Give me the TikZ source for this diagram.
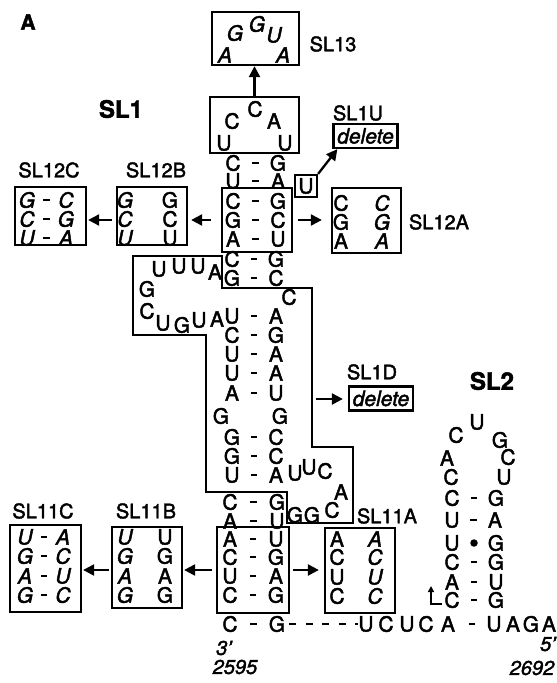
\documentclass[tikz,border=0pt]{standalone}
\usepackage{fontspec}
\setmainfont{TeX Gyre Heros}[FakeBold=2]
\usetikzlibrary{arrows.meta,calc}
\tikzset{
  nt/.style={inner sep=0pt, font=\fontsize{21}{21}\selectfont},
  nti/.style={inner sep=0pt, font=\fontsize{21}{21}\selectfont\itshape},
  dsh/.style={fill, inner sep=0pt, minimum width=6.5pt, minimum height=2.6pt},
  lbl/.style={inner sep=0pt, font=\fontsize{20}{20}\selectfont},
  ilbl/.style={inner sep=0pt, font=\fontsize{20}{20}\selectfont\itshape},
  blbl/.style={inner sep=0pt, font=\fontsize{24}{24}\selectfont\bfseries},
  boxst/.style={draw, line width=2.3pt, inner sep=0pt},
  delbox/.style={boxst, minimum width=64pt, minimum height=24pt, font=\fontsize{21}{21}\selectfont\itshape},
  arr/.style={line width=2.3pt, -{Triangle[length=11pt,width=11pt]}},
  outline/.style={line width=2.3pt, line join=miter},
  dashline/.style={line width=2.6pt, dash pattern=on 7pt off 9.5pt},
}
\newcommand{\pairrow}[7][nt]{%
  \node[#1] (#2l) at (#3,#5) {#6};
  \node[dsh] (#2d) at ({(#3+#4)/2},#5) {};
  \node[#1] (#2r) at (#4,#5) {#7};}
\begin{document}
\begin{tikzpicture}[x=1pt,y=-1pt]
\useasboundingbox (0,0) rectangle (557,683);
% panel and group labels
\node[inner sep=0pt, font=\fontsize{21}{21}\selectfont\bfseries] (panelA) at (28,22) {A};
\node[blbl] (lsl1) at (121,109) {SL1};
\node[blbl] (lsl2) at (492,381) {SL2};

% SL13
\node[boxst, minimum width=87pt, minimum height=53pt] (sl13) at (255.5,38.5) {};
\node[nti] (g13a) at (235,33) {G};
\node[nti] (g13b) at (257,24) {G};
\node[nti] (u13) at (274,35) {U};
\node[nti] (a13a) at (225,55) {A};
\node[nti] (a13b) at (283,55) {A};
\node[lbl] (lsl13) at (333,44) {SL13};

% top loop
\node[boxst, minimum width=89pt, minimum height=56pt] (tl) at (254.5,125) {};
\node[nt] (tlc1) at (232,121) {C};
\node[nt] (tlc2) at (255,109) {C};
\node[nt] (tla) at (274,121) {A};
\node[nt] (tlu1) at (224,143) {U};
\node[nt] (tlu2) at (285,143) {U};
\draw[arr] (tl.north) -- (tl.north |- sl13.south);

% upper stem
\pairrow{s1}{233}{278}{163}{C}{G}
\pairrow{s2}{233}{278}{181}{U}{A}
\node[boxst, minimum width=70pt, minimum height=64pt] (core12) at (257,220) {};
\pairrow{s3}{233}{278}{201}{C}{G}
\pairrow{s4}{233}{278}{220}{G}{C}
\pairrow{s5}{233}{278}{239}{A}{U}
\pairrow{s6}{232}{276}{259}{C}{G}
\pairrow{s7}{232}{276}{278}{G}{C}
\node[nt] (bulc) at (289,297) {C};

% U bulge / SL1U
\node[boxst, minimum size=22pt, font=\fontsize{21}{21}\selectfont] (ubox) at (306,186) {U};
\node[lbl] (lsl1u) at (358,113) {SL1U};
\node[delbox] (del1) at (365.5,136) {delete};
\draw[arr] (ubox.north east) -- ([xshift=5pt]del1.south west);

% SL12 variants
\node[boxst, minimum width=70pt, minimum height=58pt] (sl12b) at (152,216) {};
\node[nti] (b12l1) at (125,200) {G};
\node[nti] (b12l2) at (125,219) {C};
\node[nti] (b12l3) at (125,238) {U};
\node[nt] (b12r1) at (170,200) {G};
\node[nt] (b12r2) at (170,219) {C};
\node[nt] (b12r3) at (170,238) {U};
\node[lbl] (lsl12b) at (156,170) {SL12B};

\node[boxst, minimum width=71pt, minimum height=58pt] (sl12c) at (50.5,216) {};
\pairrow[nti]{c12a}{27}{66}{200}{G}{C}
\pairrow[nti]{c12b}{27}{66}{219}{C}{G}
\pairrow[nti]{c12c}{27}{66}{238}{U}{A}
\node[lbl] (lsl12c) at (49,170) {SL12C};

\node[boxst, minimum width=69pt, minimum height=65pt] (sl12a) at (366.5,220.5) {};
\node[nt] (a12l1) at (341,203) {C};
\node[nt] (a12l2) at (341,222) {G};
\node[nt] (a12l3) at (341,241) {A};
\node[nti] (a12r1) at (382,203) {C};
\node[nti] (a12r2) at (382,222) {G};
\node[nti] (a12r3) at (382,241) {A};
\node[lbl] (lsl12a) at (439,222) {SL12A};

\draw[arr, shorten <=10pt, shorten >=3pt] (core12.west) -- (core12.west -| sl12b.east);
\draw[arr, shorten <=4pt, shorten >=1pt] (core12.west -| sl12b.west) -- (core12.west -| sl12c.east);
\draw[arr, shorten <=5pt, shorten >=9pt] (core12.east) -- (core12.east -| sl12a.west);

% internal loop
\node[nt] (la1) at (215,272) {A};
\node[nt] (lu1) at (159,269) {U};
\node[nt] (lu2) at (179,266) {U};
\node[nt] (lu3) at (198,266) {U};
\node[nt] (lg1) at (147,289) {G};
\node[nt] (lc1) at (147,311) {C};
\node[nt] (lu4) at (163,323) {U};
\node[nt] (lg2) at (182,325) {G};
\node[nt] (lu5) at (199,320) {U};
\node[nt] (la2) at (217,319) {A};

% lower stem
\pairrow{s8}{232}{276}{316}{U}{A}
\pairrow{s9}{232}{276}{335}{C}{G}
\pairrow{s10}{232}{276}{354}{U}{A}
\pairrow{s11}{232}{276}{373}{U}{A}
\pairrow{s12}{232}{276}{393}{A}{U}
\node[nt] (gg1) at (221,416) {G};
\node[nt] (gg2) at (280,416) {G};
\pairrow{s13}{232}{276}{437}{G}{C}
\pairrow{s14}{232}{276}{456}{G}{C}
\pairrow{s15}{232}{276}{475}{U}{A}
\node[nt] (hu1) at (295,473) {U};
\node[nt] (hu2) at (309,467) {U};
\node[nt] (hc1) at (325,471) {C};
\node[nt] (ha1) at (341,492) {A};
\node[nt] (hc2) at (332,510) {C};
\node[nt] (hg1) at (295,515) {G};
\node[nt] (hg2) at (312,515) {G};

% outline of SL1 region
\draw[outline] (133,256) -- (222,256) -- (222,288) -- (312,288) -- (312,447) -- (353,447)
  -- (353,523) -- (287,523) -- (287,492) -- (206,492) -- (206,335) -- (133,335) -- cycle;

% SL1D
\node[lbl] (lsl1d) at (372,372) {SL1D};
\node[delbox] (del2) at (381,398.5) {delete};
\coordinate (d2tail) at (316,399);
\draw[arr, shorten >=5pt] (d2tail) -- (d2tail -| del2.west);

% SL11 core
\pairrow{s16}{230}{277}{502}{C}{G}
\pairrow{s17}{230}{277}{521}{A}{U}
\node[boxst, minimum width=72pt, minimum height=86pt] (core11) at (253,570) {};
\pairrow{s18}{230}{276}{539}{A}{U}
\pairrow{s19}{230}{276}{557}{C}{G}
\pairrow{s20}{230}{276}{576}{U}{A}
\pairrow{s21}{230}{276}{595}{C}{G}
\pairrow{s22}{230}{277}{624}{C}{G}

% SL11A
\node[boxst, minimum width=70pt, minimum height=85pt] (sl11a) at (360,570.5) {};
\node[nt] (a11l1) at (337,539) {A};
\node[nt] (a11l2) at (337,557) {C};
\node[nt] (a11l3) at (337,577) {U};
\node[nt] (a11l4) at (337,596) {C};
\node[nti] (a11r1) at (375,539) {A};
\node[nti] (a11r2) at (375,557) {C};
\node[nti] (a11r3) at (375,577) {U};
\node[nti] (a11r4) at (375,596) {C};
\node[lbl] (lsl11a) at (387,516) {SL11A};

% SL11B
\node[boxst, minimum width=70pt, minimum height=81pt] (sl11b) at (147,567.5) {};
\node[nti] (b11l1) at (125,537) {U};
\node[nti] (b11l2) at (125,556) {G};
\node[nti] (b11l3) at (125,576) {A};
\node[nti] (b11l4) at (125,595) {G};
\node[nt] (b11r1) at (165,537) {U};
\node[nt] (b11r2) at (165,556) {G};
\node[nt] (b11r3) at (165,576) {A};
\node[nt] (b11r4) at (165,595) {G};
\node[lbl] (lsl11b) at (146,511) {SL11B};

% SL11C
\node[boxst, minimum width=71pt, minimum height=87pt] (sl11c) at (45.5,568.5) {};
\pairrow[nti]{c11a}{25}{63}{537}{U}{A}
\pairrow[nti]{c11b}{25}{63}{556}{G}{C}
\pairrow[nti]{c11c}{25}{63}{576}{A}{U}
\pairrow[nti]{c11d}{25}{63}{595}{G}{C}
\node[lbl] (lsl11c) at (43,511) {SL11C};

\draw[arr, shorten <=4pt, shorten >=1pt] (core11.west) -- (core11.west -| sl11b.east);
\draw[arr, shorten <=2pt, shorten >=1pt] (core11.west -| sl11b.west) -- (core11.west -| sl11c.east);
\draw[arr, shorten <=3pt, shorten >=5pt] (core11.east) -- (core11.east -| sl11a.west);

% bottom strand
\node[nt] (b1) at (366,624) {U};
\node[nt] (b2) at (386,624) {C};
\node[nt] (b3) at (407,624) {U};
\node[nt] (b4) at (426,624) {C};
\node[nt] (b5) at (448,624) {A};
\node[dsh] (b6) at (472,624) {};
\node[nt] (b7) at (494,624) {U};
\node[nt] (b8) at (513,624) {A};
\node[nt] (b9) at (531,624) {G};
\node[nt] (b10) at (549,624) {A};
\draw[dashline] ([xshift=4pt]s22r.east) -- (b1.west);

% SL2 hairpin
\pairrow{h1}{452}{496}{498}{C}{G}
\pairrow{h2}{452}{495}{520}{U}{A}
\node[nt] (h3l) at (452,543) {U};
\node[circle, fill, inner sep=0pt, minimum size=7.5pt] (h3d) at (474,543) {};
\node[nt] (h3r) at (496,543) {G};
\pairrow{h4}{452}{496}{562}{C}{G}
\pairrow{h5}{452}{496}{582}{A}{U}
\pairrow{h6}{452}{496}{600}{C}{G}
\node[nt] (hl1) at (451,477) {C};
\node[nt] (hl2) at (447,458) {A};
\node[nt] (hl3) at (456,435) {C};
\node[nt] (hl4) at (477,422) {U};
\node[nt] (hl5) at (500,440) {G};
\node[nt] (hl6) at (508,457) {C};
\node[nt] (hl7) at (504,477) {U};
\coordinate (ea) at (442,604);
\coordinate (eb) at (431,586);
\draw[line width=1.6pt, -{Triangle[length=6pt,width=6pt]}] (ea) -| (eb);

% ends
\node[ilbl] (e3) at (224,648) {3'};
\node[ilbl] (n2595) at (235,667) {2595};
\node[ilbl] (e5) at (548,644) {5'};
\node[ilbl] (n2692) at (532,668) {2692};
\end{tikzpicture}
\end{document}
